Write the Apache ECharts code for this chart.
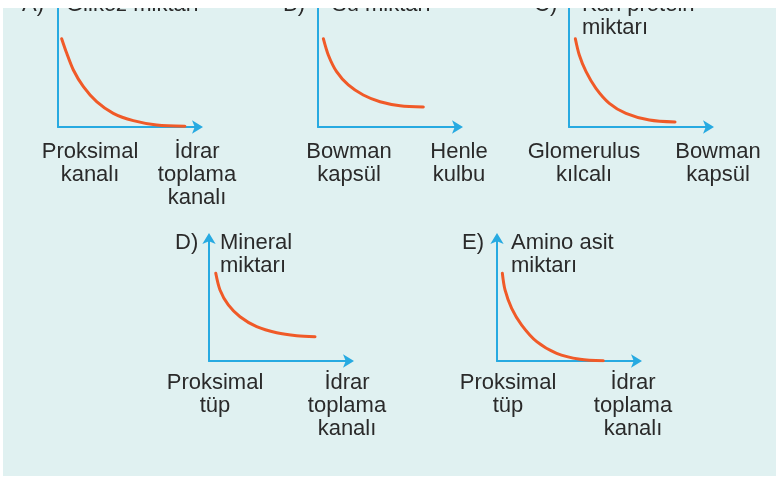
<!DOCTYPE html>
<html>
<head>
<meta charset="utf-8">
<script src="https://cdn.jsdelivr.net/npm/echarts@6/dist/echarts.min.js"></script>
<style>
  html, body { margin: 0; padding: 0; background: #ffffff; }
  #page { position: relative; width: 776px; height: 480px; background: #ffffff; overflow: hidden; }
  #main { position: absolute; left: 3px; top: 8px; width: 773px; height: 468px; background: #e0f1f1; }
</style>
</head>
<body>
<div id="page"><div id="main"></div></div>
<script>
// panel letters, titles and axis end labels
var letters = ['A)', 'B)', 'C)', 'D)', 'E)'];
var titles = ['Glikoz miktarı', 'Su miktarı', 'Kan protein\nmiktarı', 'Mineral\nmiktarı', 'Amino asit\nmiktarı'];
var startLabels = ['Proksimal\nkanalı', 'Bowman\nkapsül', 'Glomerulus\nkılcalı', 'Proksimal\ntüp', 'Proksimal\ntüp'];
var endLabels = ['İdrar\ntoplama\nkanalı', 'Henle\nkulbu', 'Bowman\nkapsül', 'İdrar\ntoplama\nkanalı', 'İdrar\ntoplama\nkanalı'];

// curve points, [x, y] on a 0-100 scale of each panel
var curveA = [[2.6, 71.2], [6.2, 59.4], [10.9, 46], [18, 32.5], [27.4, 20.4], [39.2, 11], [53.4, 5.1], [70, 1.6], [90, 0.6]];
var curveB = [[3.8, 71.2], [7.3, 58.1], [13.2, 44.6], [21.5, 33.9], [32.1, 25.8], [44, 20.4], [58.2, 17.2], [74.7, 16.1]];
var curveC = [[4.5, 71.2], [7.3, 58.1], [12.1, 44.6], [19.1, 31.2], [28.6, 19.1], [40.4, 11], [57, 5.6], [75.2, 4]];
var curveD = [[4.8, 70.7], [7.8, 57.3], [13.7, 45.2], [22, 35.7], [33.8, 27.7], [48, 22.8], [62.2, 20.4], [75.2, 19.6]];
var curveE = [[3.8, 70.7], [5.7, 57.3], [10.4, 42.5], [17.5, 29], [28.2, 15.6], [42.3, 6.2], [58.9, 1.4], [75.4, 0.2]];
var curves = [curveA, curveB, curveC, curveD, curveE];

// layout in page pixels
var OX = 3, OY = 8;
var GW = 141, GH = 124;
var origins = [[58, 127], [318, 127], [569, 127], [209, 361], [497, 361]];
var cropTop = [true, true, true, false, false];   // top row runs off the picture
var letterX = [22, 283, 534, 175, 462];
var titleX = [66, 332, 582, 220, 511];
var titleY = [5, 5, 5, 243, 243];
var startX = [90, 349, 584, 215, 508];
var endX = [197, 459, 718, 347, 633];
var labelY = [152, 152, 152, 383, 383];

var AXIS = '#27aae1';
var CURVE = '#f05a28';
var TEXT = '#2a2a2a';
var FONT = '"Liberation Sans", Arial, sans-serif';

var myChart = echarts.init(document.getElementById('main'));

var grids = [], xAxes = [], yAxes = [], series = [], graphics = [];

function axisOpt(i, arrow) {
    return {
        type: 'value',
        gridIndex: i,
        min: 0,
        max: 100,
        axisLine: {
            show: true,
            onZero: false,
            symbol: ['none', arrow ? 'arrow' : 'none'],
            symbolSize: [10, 11],
            symbolOffset: [0, 4],
            lineStyle: { color: AXIS, width: 2 }
        },
        axisTick: { show: false },
        axisLabel: { show: false },
        splitLine: { show: false }
    };
}

function txt(x, y, text, align, vAlign) {
    return {
        type: 'text',
        x: x - OX,
        y: y - OY,
        style: {
            text: text,
            fill: TEXT,
            font: '22px ' + FONT,
            lineHeight: 23,
            align: align,
            verticalAlign: vAlign
        }
    };
}

for (var i = 0; i < curves.length; i++) {
    var o = origins[i];
    // cropped panels: y axis is taller so it runs past the top edge
    var gh = cropTop[i] ? GH + 10 : GH;
    grids.push({
        left: o[0] - OX,
        top: o[1] - OY - gh,
        width: GW,
        height: gh,
        outerBoundsMode: 'none',
        containLabel: false
    });
    xAxes.push(axisOpt(i, true));
    var ya = axisOpt(i, !cropTop[i]);
    if (cropTop[i]) ya.max = 100 * gh / GH;
    yAxes.push(ya);
    series.push({
        type: 'line',
        xAxisIndex: i,
        yAxisIndex: i,
        data: curves[i],
        smooth: 0.3,
        showSymbol: false,
        silent: true,
        lineStyle: { color: CURVE, width: 3, cap: 'round' },
        z: 3
    });
    graphics.push(txt(letterX[i], titleY[i] - 11.5, letters[i], 'left', 'top'));
    graphics.push(txt(titleX[i], titleY[i] - 11.5, titles[i], 'left', 'top'));
    graphics.push(txt(startX[i], labelY[i] - 11.5, startLabels[i], 'center', 'top'));
    graphics.push(txt(endX[i], labelY[i] - 11.5, endLabels[i], 'center', 'top'));
}

myChart.setOption({
    animation: false,
    backgroundColor: '#e0f1f1',
    grid: grids,
    xAxis: xAxes,
    yAxis: yAxes,
    series: series,
    graphic: graphics
});
</script>
</body>
</html>
